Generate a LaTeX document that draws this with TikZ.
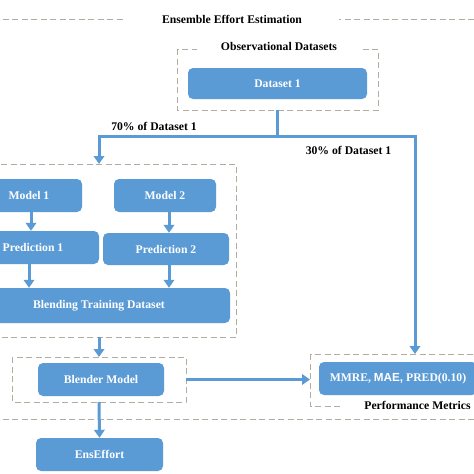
\documentclass[tikz,border=0pt]{standalone}
\usepackage{fontspec}
\setmainfont{Liberation Serif}
\newfontfamily\arialfont{Liberation Sans}
\usetikzlibrary{arrows.meta,calc}
\definecolor{boxblue}{RGB}{91,155,213}
\definecolor{dashgray}{RGB}{178,172,160}
\tikzset{
  bluebox/.style={draw=none,fill=boxblue,rounded corners=5pt,text=white,
    font=\bfseries\fontsize{11.7}{14}\selectfont,inner sep=0pt},
  dashbox/.style={draw=dashgray,line width=1pt,dash pattern=on 6pt off 3.5pt},
  lbl/.style={font=\bfseries\fontsize{11.7}{14}\selectfont,text=black,inner sep=0pt},
  gaplbl/.style={lbl,fill=white,inner ysep=3pt},
  arr/.style={draw=boxblue,line width=3pt,-{Triangle[width=10.5pt,length=8pt]}},
  ln/.style={draw=boxblue,line width=3pt},
}
\begin{document}
\begin{tikzpicture}[x=1pt,y=-1pt]
\useasboundingbox (0,0) rectangle (474,474);
\clip (0,0) rectangle (474,474);
\fill[white] (0,0) rectangle (474,474);
% outer dashed frame
\draw[dashbox] (-6,19) rectangle (480,419);
\node[gaplbl,inner xsep=37pt] (title) at (232,19) {Ensemble Effort Estimation};
% observational datasets
\draw[dashbox] (177,49) rectangle (378,110);
\coordinate (obsS) at (277.5,110);
\node[gaplbl,inner xsep=24pt] (obstitle) at (279,46) {Observational Datasets};
\node[bluebox,minimum width=179pt,minimum height=31pt] (ds) at (277.5,83.5) {Dataset 1};
% split
\coordinate (jn) at (277.5,136);
\coordinate (jl) at (99,136);
\coordinate (jr) at (415,136);
\coordinate (inTop) at (99,164);
\coordinate (pmTop) at (415,354);
\draw[ln] (obsS) -- (jn);
\draw[ln,line cap=rect] (jl) -- (jr);
\draw[arr] (jl) -- (inTop);
\draw[arr] (jr) -- (pmTop);
\node[lbl] (l70) at (154,126) {70\% of Dataset 1};
\node[lbl] (l30) at (348.5,150) {30\% of Dataset 1};
% inner training box
\draw[dashbox] (-6,164) rectangle (236,337);
\coordinate (inBot) at (99,337);
\node[bluebox,minimum width=106pt,minimum height=33pt] (m1) at (29,195.5) {Model 1};
\node[bluebox,minimum width=102pt,minimum height=33pt] (m2) at (165,195.5) {Model 2};
\node[bluebox,minimum width=132pt,minimum height=33pt] (p1) at (33,247.5) {Prediction 1};
\node[bluebox,minimum width=126pt,minimum height=32pt] (p2) at (166,249) {Prediction 2};
\node[bluebox,minimum width=262pt,minimum height=35pt] (bl) at (99,305.5) {Blending Training Dataset};
\draw[arr] ([xshift=2pt]m1.south) -- ([xshift=2pt]m1.south |- p1.north);
\draw[arr] ([xshift=4pt]m2.south) -- ([xshift=4pt]m2.south |- p2.north);
\draw[arr] ([xshift=-4pt]p1.south) -- ([xshift=-4pt]p1.south |- bl.north);
\draw[arr] ([xshift=3pt]p2.south) -- ([xshift=3pt]p2.south |- bl.north);
% blender
\draw[dashbox] (12,357) rectangle (186,402);
\coordinate (bdTop) at (99,357);
\coordinate (bdBot) at (99,402);
\coordinate (bdE) at (186,379.5);
\node[bluebox,minimum width=126pt,minimum height=33pt] (bm) at (101,379.5) {Blender Model};
\draw[arr] (inBot) -- (bdTop);
% performance metrics
\draw[dashbox] (310,354) rectangle (482,406);
\coordinate (pmW) at (310,379.5);
\node[bluebox,minimum width=158pt,minimum height=33pt] (mm) at (398,378.5) {MMRE, {\arialfont MAE,} PRED(0.10)};
\node[gaplbl,inner xsep=20pt,inner ysep=2pt] (pmt) at (417.5,405) {Performance Metrics};
\draw[arr] (bdE) -- (pmW);
% ensemble effort
\node[bluebox,minimum width=127pt,minimum height=33pt] (ee) at (99.5,454.5) {EnsEffort};
\draw[arr] (bdBot) -- (ee.north);
\end{tikzpicture}
\end{document}
